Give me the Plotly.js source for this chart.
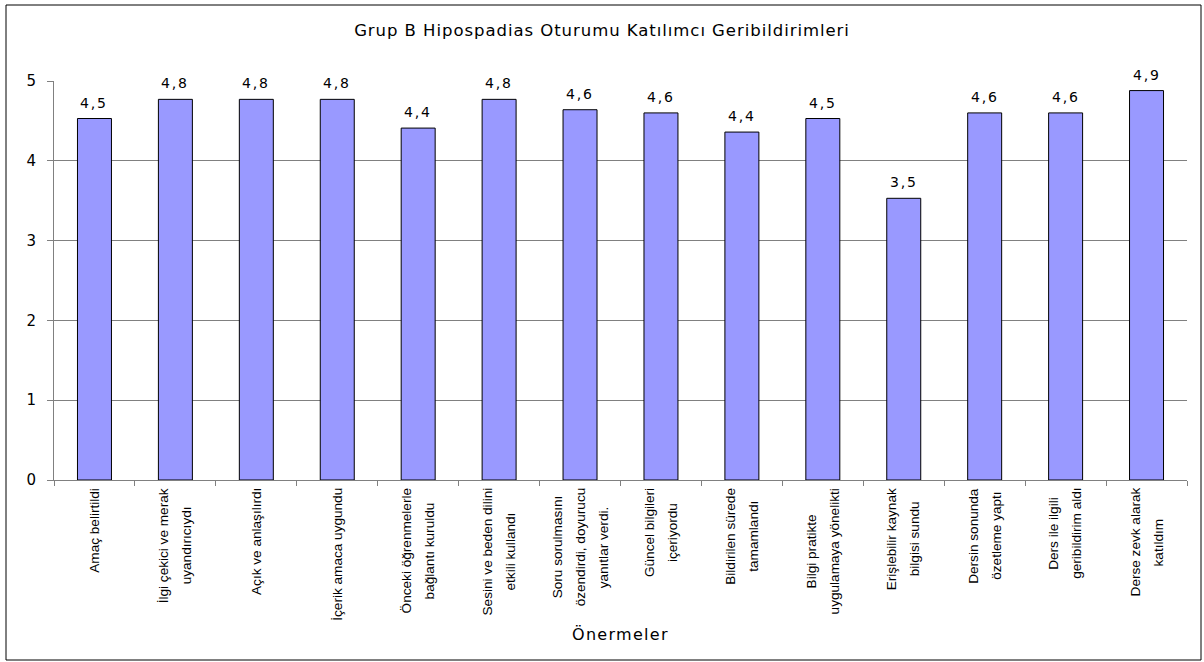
<!DOCTYPE html>
<html>
<head>
<meta charset="utf-8">
<script src="https://cdn.plot.ly/plotly-3.0.1.min.js"></script>
<style>
  html, body { margin: 0; padding: 0; background: #fff; }
  #chart { width: 1204px; height: 662px; }
</style>
</head>
<body>
<div id="chart"></div>
<script>
// ---- Data ----
var categories = [
  "Amaç belirtildi",
  "İlgi çekici ve merak\nuyandırıcıydı",
  "Açık ve anlaşılırdı",
  "İçerik amaca uygundu",
  "Önceki öğrenmelerle\nbağlantı kuruldu",
  "Sesini ve beden dilini\netkili kullandı",
  "Soru sorulmasını\nözendirdi, doyurucu\nyanıtlar verdi.",
  "Güncel bilgileri\niçeriyordu",
  "Bildirilen sürede\ntamamlandı",
  "Bilgi pratikte\nuygulamaya yönelikti",
  "Erişlebilir kaynak\nbilgisi sundu",
  "Dersin sonunda\nözetleme yaptı",
  "Ders ile ilgili\ngeribildirim aldı",
  "Derse zevk alarak\nkatıldım"
];
var scores = [4.53, 4.77, 4.77, 4.77, 4.41, 4.77, 4.64, 4.60, 4.36, 4.53, 3.53, 4.60, 4.60, 4.88];
var yTicks = [0, 1, 2, 3, 4, 5];
var chartTitle = "Grup B Hipospadias Oturumu Katılımcı Geribildirimleri";
var xTitle = "Önermeler";

// ---- Build ----
var FONT = "Liberation Sans, Arial, sans-serif";
var WIDE = "DejaVu Sans, Verdana, sans-serif";
var labelFontSize = 13.6;
var lineStep = 23;

function spaced(s, px) {
  return '<span style="letter-spacing:' + px + 'px">' + s + '</span>';
}
function fmt(v) { return v.toFixed(1).replace('.', ','); }

var ctx = document.createElement("canvas").getContext("2d");
ctx.font = labelFontSize + "px 'Liberation Sans'";

var annotations = [];
categories.forEach(function (cat, i) {
  var lines = cat.split("\n");
  var maxLen = 0;
  lines.forEach(function (l) { maxLen = Math.max(maxLen, ctx.measureText(l).width); });
  lines.forEach(function (l, j) {
    annotations.push({
      x: cat, xref: "x", y: 0, yref: "paper",
      text: l, textangle: -90, showarrow: false,
      xanchor: "center", yanchor: "middle",
      xshift: (j - (lines.length - 1) / 2) * lineStep,
      yshift: -(8 + maxLen / 2),
      font: { family: FONT, size: labelFontSize, color: "#000" }
    });
  });
});
// value labels above bars
categories.forEach(function (cat, i) {
  annotations.push({
    x: cat, xref: "x", y: scores[i], yref: "y",
    text: spaced(fmt(scores[i]), 1.8), showarrow: false,
    xanchor: "center", yanchor: "bottom", yshift: 6,
    font: { family: WIDE, size: 14, color: "#000" }
  });
});
annotations.push({
  x: 0.5, xref: "paper", y: -0.386, yref: "paper",
  text: spaced(xTitle, 1.3), showarrow: false, xanchor: "center", yanchor: "middle",
  font: { family: WIDE, size: 16, color: "#000" }
});

var trace = {
  type: "bar",
  x: categories,
  y: scores,
  marker: { color: "#9999FF", line: { color: "#000000", width: 1 } },
  hoverinfo: "x+y"
};

var layout = {
  width: 1204, height: 662,
  paper_bgcolor: "#ffffff", plot_bgcolor: "#ffffff",
  margin: { l: 54, r: 17, t: 81, b: 182 },
  bargap: 0.58,
  showlegend: false,
  font: { family: FONT, color: "#000" },
  title: {
    text: spaced(chartTitle, 0.95),
    font: { family: WIDE, size: 16.5, color: "#000" },
    x: 0.5, xanchor: "center", y: 1 - 30 / 662, yanchor: "middle"
  },
  xaxis: {
    type: "category",
    showticklabels: false,
    showline: true, linecolor: "#808080", linewidth: 1,
    ticks: "outside", tickson: "boundaries", ticklen: 5, tickcolor: "#808080",
    showgrid: false, zeroline: false
  },
  yaxis: {
    range: [0, 5],
    tickvals: yTicks,
    ticktext: yTicks.map(String),
    tickfont: { family: WIDE, size: 15, color: "#000" },
    ticks: "outside", ticklen: 6, tickcolor: "#808080",
    ticklabelstandoff: 8,
    showline: true, linecolor: "#808080", linewidth: 1,
    showgrid: true, gridcolor: "#808080", gridwidth: 1,
    zeroline: false
  },
  annotations: annotations,
  shapes: [{
    type: "rect", xref: "paper", yref: "paper",
    x0: (6 - 54) / 1133, x1: (1201 - 54) / 1133,
    y0: (480 - 660) / 399, y1: (480 - 5) / 399,
    line: { color: "#000", width: 1 }, fillcolor: "rgba(0,0,0,0)", layer: "below"
  }]
};

Plotly.newPlot("chart", [trace], layout, { displayModeBar: false, staticPlot: true });
</script>
</body>
</html>
